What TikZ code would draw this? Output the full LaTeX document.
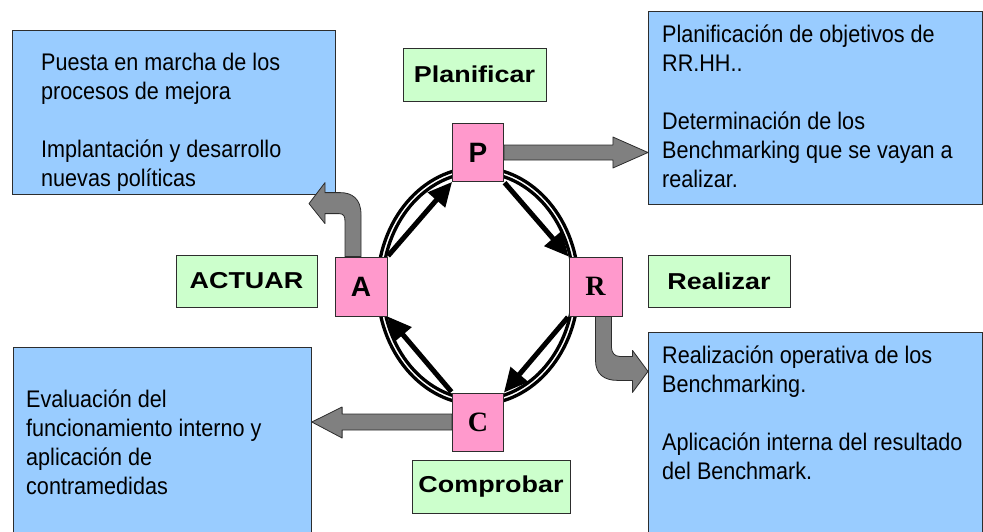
\documentclass[tikz,border=0pt]{standalone}
\usepackage{fontspec}
\setmainfont{Liberation Sans}
\newfontfamily\notefont{Liberation Sans}[FakeStretch=0.9]
\newfontfamily\tagfont{Liberation Sans}[FakeStretch=1.17]
\newfontfamily\letterfont{Liberation Serif}
\usepackage{tikz}
\usetikzlibrary{arrows.meta,calc}

\definecolor{noteblue}{RGB}{153,204,255}
\definecolor{taggreen}{RGB}{204,255,204}
\definecolor{stagepink}{RGB}{255,153,204}
\definecolor{arrowgray}{RGB}{128,128,128}
\definecolor{edgegray}{RGB}{45,45,45}

\tikzset{
  stagebox/.style={draw=edgegray, fill=stagepink, line width=0.8pt, minimum width=51pt,
    minimum height=58pt, inner sep=0pt, font=\fontsize{28}{32}\selectfont\bfseries},
  tagbox/.style={draw=edgegray, fill=taggreen, line width=0.8pt, minimum height=53pt,
    inner sep=0pt, font=\tagfont\fontsize{23}{28}\selectfont\bfseries},
  notebox/.style={draw=edgegray, fill=noteblue, line width=0.8pt, anchor=north west, inner sep=0pt},
  notetext/.style={anchor=north west, inner sep=0pt, align=left, font=\notefont\fontsize{24}{29}\selectfont},
  cyclearrow/.style={line width=5pt, -{Triangle[length=24pt,width=22pt]}, shorten <=1pt},
  blockarrow/.style={draw=edgegray, fill=arrowgray, line width=0.8pt, line join=round},
  ring/.style={line width=3.3pt}
}

\begin{document}
\begin{tikzpicture}[x=1pt, y=-1pt]
%%% ciclo de mejora %%%
      \useasboundingbox (0,0) rectangle (983,531);

      %% notas
      \node[notebox, minimum width=323pt, minimum height=164pt] (boxA) at (12,30) {};
      \node[notebox, minimum width=334pt, minimum height=193pt] (boxP) at (648,11) {};
      \node[notebox, minimum width=298pt, minimum height=200pt] (boxC) at (13,347) {};
      \node[notebox, minimum width=334pt, minimum height=210pt] (boxR) at (648,332) {};

      \node[notetext] (txtA) at (41,49.7)
        {\strut Puesta en marcha de los\\procesos de mejora\\[29pt]Implantación y desarrollo\\nuevas políticas};
      \node[notetext] (txtP) at (662,21.7)
        {\strut Planificación de objetivos de\\RR.HH..\\[29pt]Determinación de los\\Benchmarking que se vayan a\\realizar.};
      \node[notetext] (txtC) at (26,386.7)
        {\strut Evaluación del\\funcionamiento interno y\\aplicación de\\contramedidas};
      \node[notetext] (txtR) at (662,342.7)
        {\strut Realización operativa de los\\Benchmarking.\\[29pt]Aplicación interna del resultado\\del Benchmark.};

      %% anillo
      \coordinate (hub) at (478,286);
      \draw[ring] (hub) ellipse [x radius=100.5, y radius=118.5];
      \draw[ring] (hub) ellipse [x radius=95.5, y radius=113.5];

      %% etapas
      \node[stagebox] (P) at (478,152.5) {P};
      \node[stagebox, minimum width=52pt, minimum height=59pt] (A) at (361,286.5) {A};
      \node[stagebox, minimum width=53pt, minimum height=59pt] (R) at (595.5,286.5) {\letterfont R};
      \node[stagebox] (C) at (478,422) {\letterfont C};

      \node[tagbox, minimum width=143pt] (planificar) at (474.5,74.5) {Planificar};
      \node[tagbox, minimum width=141pt, minimum height=52pt] (actuar) at (246.5,281) {ACTUAR};
      \node[tagbox, minimum width=142pt, minimum height=52pt] (realizar) at (719,281) {Realizar};
      \node[tagbox, minimum width=158pt] (comprobar) at (491,486.5) {Comprobar};

      %% ciclo
      \draw[cyclearrow] (A.north east) -- (P.south west);
      \draw[cyclearrow] (P.south east) -- (R.north west);
      \draw[cyclearrow] (R.south west) -- (C.north east);
      \draw[cyclearrow] (C.north west) -- (A.south east);

      %% salidas
      \draw[blockarrow] ($(P.east)+(0,-7.5)$) -- ++(109,0) -- ++(0,-8) -- (boxP.west |- P.east)
        -- ($(P.east)+(109,15.5)$) -- ++(0,-8) -- ($(P.east)+(0,7.5)$) -- cycle;
      \draw[blockarrow] ($(C.west)+(0,-8)$) -- ++(-110,0) -- ++(0,-7) -- (boxC.east |- C.west)
        -- ($(C.west)+(-110,16)$) -- ++(0,-8) -- ($(C.west)+(0,8)$) -- cycle;
      \draw[blockarrow] (A.north) -- ++(0,-42) .. controls +(0,-16) and +(12,0) .. ($(A.north)+(-21,-64)$)
        -- ($(A.north)+(-36,-64)$) -- ++(0,-10) -- ($(A.north)+(-52,-53)$) -- ($(A.north)+(-36,-33)$)
        -- ++(0,-10) -- ($(A.north)+(-22,-43)$) .. controls +(5,0) and +(0,-5) .. ($(A.north)+(-16,-35)$)
        -- ($(A.north)+(-16,0)$) -- cycle;
      \draw[blockarrow] (R.south) -- ++(0,44) .. controls +(0,14) and +(-13,0) .. ($(R.south)+(22,64)$)
        -- ($(R.south)+(37,64)$) -- ++(0,12) -- ($(R.south)+(52.5,55)$) -- ($(R.south)+(37,34)$)
        -- ++(0,6) -- ($(R.south)+(24,40)$) .. controls +(-5,0) and +(0,5) .. ($(R.south)+(16,31)$)
        -- ($(R.south)+(16,0)$) -- cycle;

\end{tikzpicture}
\end{document}
